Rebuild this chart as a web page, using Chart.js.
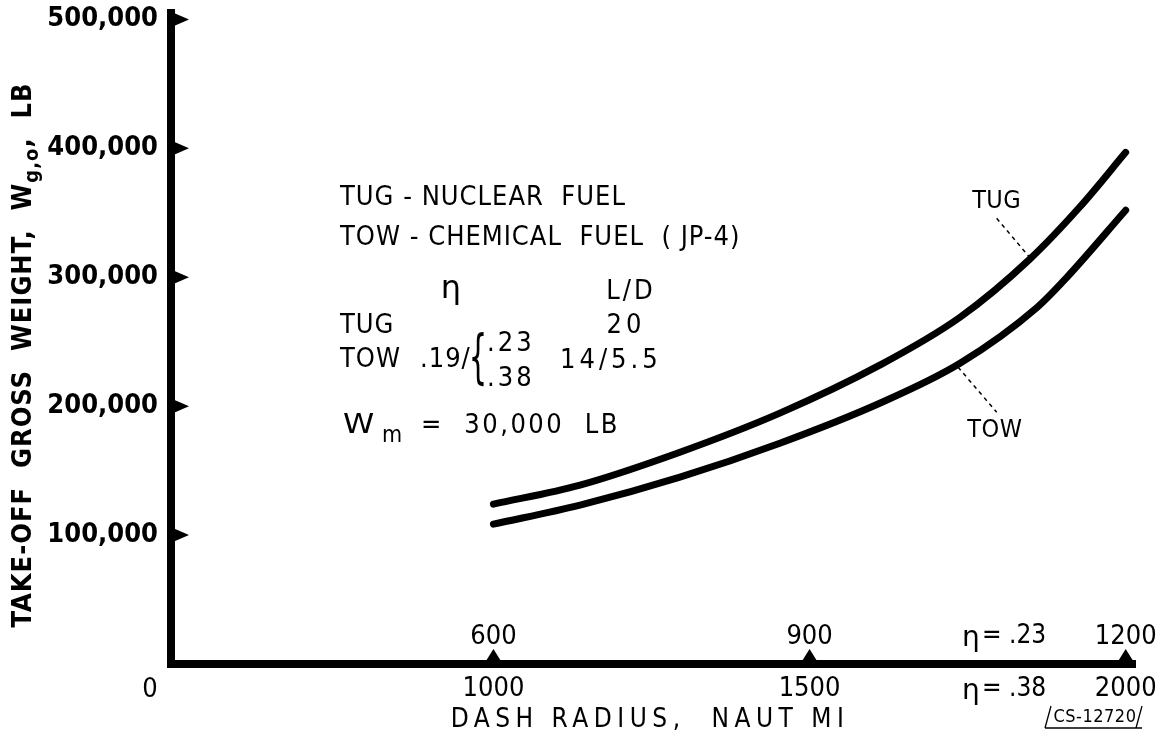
<!DOCTYPE html>
<html>
<head>
<meta charset="utf-8">
<script src="https://cdn.jsdelivr.net/npm/chart.js@4.4.0/dist/chart.umd.min.js"></script>
<style>
html, body { margin: 0; padding: 0; background: #fff; }
#wrap { width: 1164px; height: 738px; }
</style>
</head>
<body>
<div id="wrap"><canvas id="graph-canvas" width="1164" height="738"></canvas></div>
<script>
// dash radius (naut mi, eta = .38 scale) and take-off gross weight (lb)
var tugRadius = [1000, 1137, 1295, 1453, 1611, 1738, 1848, 1927, 2000];
var tugWeight = [124000, 138800, 164300, 194600, 231800, 269000, 313900, 354300, 396900];
var towRadius = [1000, 1137, 1295, 1453, 1611, 1738, 1860, 1907, 2000];
var towWeight = [108500, 123300, 145000, 171300, 202300, 233300, 276700, 300000, 352000];

var yTicks = [100000, 200000, 300000, 400000, 500000];
var xTicks = [1000, 1500, 2000];          // eta = .38
var xTicksUpper = [600, 900, 1200];       // eta = .23

// leader lines from the curve labels
var tugLeader = [{x: 1796, y: 345700}, {x: 1848, y: 315500}];
var towLeader = [{x: 1735, y: 230200}, {x: 1796, y: 195300}];

var FAM = '"DejaVu Sans", sans-serif';
var COND = '"DejaVu Sans Condensed", "DejaVu Sans", sans-serif';

var toXY = (xs, ys) => {
    let pts = [];
    for (let i = 0; i < xs.length; i++) {
        pts.push({x: xs[i], y: ys[i]});
    }
    return pts;
};

function txt(ctx, s, x, y, font, align, spacing) {
    ctx.font = font;
    ctx.textAlign = align || 'left';
    ctx.textBaseline = 'middle';
    ctx.letterSpacing = (spacing || 0) + 'px';
    ctx.fillText(s, x, y);
    ctx.letterSpacing = '0px';
}

var decor = {
    id: 'decor',
    afterDraw(chart) {
        var ctx = chart.ctx;
        var xs = chart.scales.x, ys = chart.scales.y;
        var ca = chart.chartArea;
        ctx.save();
        ctx.fillStyle = '#000';
        ctx.strokeStyle = '#000';

        // tick arrowheads on the y axis
        yTicks.forEach(v => {
            let py = ys.getPixelForValue(v);
            ctx.beginPath();
            ctx.moveTo(ca.left + 3, py - 6.5);
            ctx.lineTo(ca.left + 18, py);
            ctx.lineTo(ca.left + 3, py + 6.5);
            ctx.closePath();
            ctx.fill();
        });
        // tick arrowheads on the x axis
        xTicks.forEach(v => {
            let px = xs.getPixelForValue(v);
            ctx.beginPath();
            ctx.moveTo(px - 7.5, ca.bottom - 3);
            ctx.lineTo(px, ca.bottom - 15);
            ctx.lineTo(px + 7.5, ca.bottom - 3);
            ctx.closePath();
            ctx.fill();
        });

        // upper scale labels (eta = .23)
        for (let i = 0; i < xTicks.length; i++) {
            txt(ctx, String(xTicksUpper[i]), xs.getPixelForValue(xTicks[i]), ca.bottom - 27, '27px ' + COND, 'center');
        }
        txt(ctx, 'η', 962, ca.bottom - 25, '28px ' + FAM, 'left');
        txt(ctx, '= .23', 982, ca.bottom - 28, '26px ' + COND, 'left');
        txt(ctx, 'η', 962, ca.bottom + 28, '28px ' + FAM, 'left');
        txt(ctx, '= .38', 982, ca.bottom + 25, '26px ' + COND, 'left');
        txt(ctx, '0', 150, ca.bottom + 26, '27px ' + COND, 'center');

        // x axis title
        txt(ctx, 'DASH RADIUS,  NAUT MI', 650, ca.bottom + 56, '26px ' + COND, 'center', 5.5);

        // y axis title with subscript, rotated
        ctx.save();
        ctx.translate(24, 355);
        ctx.rotate(-Math.PI / 2);
        var parts = [
            ['TAKE-OFF  GROSS  WEIGHT,  W', 'bold 27px ' + COND, 0],
            ['g,o', 'bold 20px ' + COND, 9],
            [',  LB', 'bold 27px ' + COND, 0]
        ];
        var sp = 1;
        var total = 0;
        parts.forEach(p => {
            ctx.font = p[1];
            ctx.letterSpacing = sp + 'px';
            total += ctx.measureText(p[0]).width;
        });
        var cx = -total / 2;
        parts.forEach(p => {
            txt(ctx, p[0], cx, p[2], p[1], 'left', sp);
            ctx.font = p[1];
            ctx.letterSpacing = sp + 'px';
            cx += ctx.measureText(p[0]).width;
            ctx.letterSpacing = '0px';
        });
        ctx.restore();

        // legend block
        var f = '27px ' + COND;
        txt(ctx, 'TUG - NUCLEAR  FUEL', 340, 198, f, 'left', 1);
        txt(ctx, 'TOW - CHEMICAL  FUEL  ( JP-4)', 340, 238, f, 'left', 1);
        txt(ctx, 'η', 451, 290, '32px ' + FAM, 'center');
        txt(ctx, 'L/D', 631, 292, f, 'center', 3);
        txt(ctx, 'TUG', 340, 326, f, 'left', 1);
        txt(ctx, '20', 626, 326, f, 'center', 4);
        txt(ctx, 'TOW', 340, 360, f, 'left', 1);
        txt(ctx, '.19/', 420, 360, f, 'left', 1);
        ctx.save();
        ctx.translate(478, 362);
        ctx.scale(0.5, 1);
        txt(ctx, '{', 0, 0, '58px ' + FAM, 'center');
        ctx.restore();
        txt(ctx, '.23', 487, 344, f, 'left', 3);
        txt(ctx, '.38', 487, 379, f, 'left', 3);
        txt(ctx, '14/5.5', 560, 361, f, 'left', 4);
        ctx.save();
        ctx.translate(343, 426);
        ctx.scale(1.3, 1);
        txt(ctx, 'W', 0, 0, '27px ' + COND, 'left');
        ctx.restore();
        txt(ctx, 'm', 382, 436, '23px ' + COND, 'left', 1);
        txt(ctx, '=  30,000  LB', 421, 426, f, 'left', 2.5);

        // curve labels
        txt(ctx, 'TUG', xs.getPixelForValue(1796), ys.getPixelForValue(359000), '25px ' + COND, 'center', 0.5);
        txt(ctx, 'TOW', xs.getPixelForValue(1793), ys.getPixelForValue(181000), '25px ' + COND, 'center', 0.5);

        // drawing number
        txt(ctx, 'CS-12720', 1095, 717, '18px ' + COND, 'center', 0.5);
        ctx.lineWidth = 1.3;
        ctx.beginPath();
        ctx.moveTo(1045, 728); ctx.lineTo(1142, 728);
        ctx.moveTo(1045, 728); ctx.lineTo(1051, 706);
        ctx.moveTo(1136, 728); ctx.lineTo(1142, 706);
        ctx.stroke();
        ctx.restore();
    }
};

var datasets = [
    {label: 'TUG', data: toXY(tugRadius, tugWeight), showLine: true, borderColor: '#000', borderWidth: 7,
     cubicInterpolationMode: 'monotone', pointRadius: 0, borderCapStyle: 'round'},
    {label: 'TOW', data: toXY(towRadius, towWeight), showLine: true, borderColor: '#000', borderWidth: 7,
     cubicInterpolationMode: 'monotone', pointRadius: 0, borderCapStyle: 'round'},
    {label: 'tug leader', data: tugLeader, showLine: true, borderColor: '#000', borderWidth: 1.5,
     borderDash: [4, 4], pointRadius: 0},
    {label: 'tow leader', data: towLeader, showLine: true, borderColor: '#000', borderWidth: 1.5,
     borderDash: [4, 4], pointRadius: 0}
];

var config = {
    type: 'scatter',
    data: {datasets: datasets},
    options: {
        responsive: false,
        animation: false,
        devicePixelRatio: 1,
        layout: {padding: {left: 0, right: 32, top: 13, bottom: 0}},
        plugins: {legend: {display: false}, tooltip: {enabled: false}},
        scales: {
            x: {
                type: 'linear', min: 490, max: 2010,
                afterFit: (s) => { s.height = 74; s.paddingLeft = 0; s.paddingRight = 0; },
                afterBuildTicks: (s) => { s.ticks = xTicks.map(v => ({value: v})); },
                grid: {display: false, drawTicks: false, lineWidth: 8},
                border: {display: true, width: 8, color: '#000'},
                ticks: {
                    padding: 9, autoSkip: false, maxRotation: 0, color: '#000',
                    font: {size: 27, family: COND},
                    callback: (v) => String(v)
                }
            },
            y: {
                type: 'linear', min: 0, max: 505000,
                afterFit: (s) => { s.width = 171; s.paddingTop = 0; s.paddingBottom = 0; },
                afterBuildTicks: (s) => { s.ticks = yTicks.map(v => ({value: v})); },
                grid: {display: false, drawTicks: false, lineWidth: 8},
                border: {display: true, width: 8, color: '#000'},
                ticks: {
                    padding: 13, autoSkip: false, color: '#000',
                    font: {size: 27, weight: 'bold', family: COND},
                    callback: (v) => v.toLocaleString('en-US')
                }
            }
        }
    },
    plugins: [decor]
};

var canvas = window.document.getElementById('graph-canvas');
var context = canvas.getContext('2d');
var chart = new Chart(context, config);
</script>
</body>
</html>
